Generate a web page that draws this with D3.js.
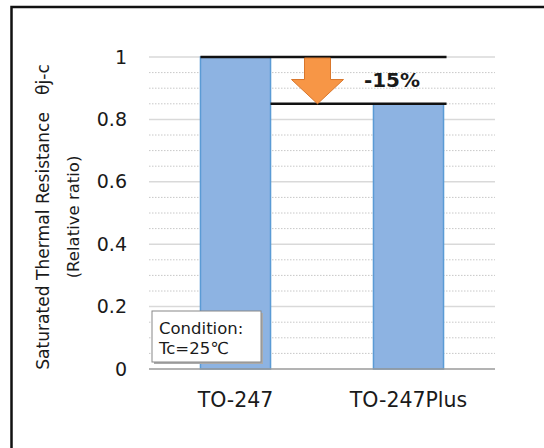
<!DOCTYPE html>
<html>
<head>
<meta charset="utf-8">
<script src="https://cdn.jsdelivr.net/npm/d3@7"></script>
<style>
  body { margin: 0; background: #fff; }
  text { font-family: "DejaVu Sans", Verdana, sans-serif; fill: #1a1a1a; }
</style>
</head>
<body>
<svg id="chart"></svg>
<script>
// chart data
const categories = ['TO-247', 'TO-247Plus'];
const values = [1, 0.85];
const majorTicks = [0, 0.2, 0.4, 0.6, 0.8, 1];
const tickLabels = ['0', '0.2', '0.4', '0.6', '0.8', '1'];
const minorTicks = d3.range(0.05, 1, 0.05).filter(v => Math.round(v * 100) % 20 !== 0);
const yTitle = ['Saturated Thermal Resistance\u3000θj-c', '(Relative ratio)'];
const noteLines = ['Condition:', 'Tc=25℃'];
const diffLabel = '-15%';

const W = 544, H = 448;
const margin = { top: 57, right: 50, bottom: 79, left: 149 };
const width = 495 - margin.left;
const height = 369 - margin.top;

const svg = d3.select('#chart').attr('width', W).attr('height', H);

// outer frame
svg.append('rect')
  .attr('x', 11.5).attr('y', 7)
  .attr('width', W).attr('height', H)
  .attr('fill', 'none').attr('stroke', '#111').attr('stroke-width', 2.5);

const g = svg.append('g').attr('transform', `translate(${margin.left},${margin.top})`);

const x = d3.scaleBand().domain(categories).range([0, width])
  .paddingInner(0.595).paddingOuter(0.2975);
const y = d3.scaleLinear().domain([0, 1]).range([height, 0]);

// minor grid (dotted)
g.selectAll('.minor').data(minorTicks).join('line')
  .attr('x1', 0).attr('x2', width)
  .attr('y1', d => y(d)).attr('y2', d => y(d))
  .attr('stroke', '#c8c8c8').attr('stroke-dasharray', '1.5,1.5').attr('stroke-width', 1);

// major grid
g.selectAll('.major').data(majorTicks.slice(1)).join('line')
  .attr('x1', 0).attr('x2', width)
  .attr('y1', d => y(d)).attr('y2', d => y(d))
  .attr('stroke', '#d9d9d9').attr('stroke-width', 1.5);

// bars
g.selectAll('.bar').data(values).join('rect')
  .attr('x', (d, i) => x(categories[i]))
  .attr('y', d => y(d))
  .attr('width', x.bandwidth())
  .attr('height', d => y(0) - y(d))
  .attr('fill', '#8db3e2').attr('stroke', '#5b9bd5').attr('stroke-width', 1.5);

// baseline
g.append('line').attr('x1', 0).attr('x2', width)
  .attr('y1', y(0)).attr('y2', y(0))
  .attr('stroke', '#9a9a9a').attr('stroke-width', 1.5);

// y axis labels
const yAxis = d3.axisLeft(y).tickValues(majorTicks)
  .tickFormat((d, i) => tickLabels[i]).tickSize(0).tickPadding(22);
g.append('g').call(yAxis)
  .call(a => a.select('.domain').remove())
  .selectAll('text')
  .attr('font-size', 19).attr('fill', '#1a1a1a')
  .style('font-family', '"DejaVu Sans", Verdana, sans-serif');

// x axis labels
const xAxis = d3.axisBottom(x).tickSize(0).tickPadding(23);
g.append('g').attr('transform', `translate(0,${height})`).call(xAxis)
  .call(a => a.select('.domain').remove())
  .selectAll('text')
  .attr('font-size', 20.5).attr('fill', '#1a1a1a')
  .style('font-family', '"DejaVu Sans", Verdana, sans-serif');

// y title
const yt = svg.append('text')
  .attr('transform', 'translate(49,217) rotate(-90)')
  .attr('text-anchor', 'middle');
yt.selectAll('tspan').data(yTitle).join('tspan')
  .attr('x', 0).attr('dy', (d, i) => i === 0 ? 0 : 30)
  .attr('font-size', (d, i) => i === 0 ? 17.1 : 16.5)
  .text(d => d);

// difference markers
const xRight = x(categories[1]) + x.bandwidth() + 3;
g.append('line')
  .attr('x1', x(categories[0])).attr('x2', xRight)
  .attr('y1', y(values[0])).attr('y2', y(values[0]))
  .attr('stroke', '#111').attr('stroke-width', 2.5);
g.append('line')
  .attr('x1', x(categories[0]) + x.bandwidth()).attr('x2', xRight)
  .attr('y1', y(values[1])).attr('y2', y(values[1]))
  .attr('stroke', '#111').attr('stroke-width', 2.5);

// arrow
const ax = 317.5 - margin.left;
const yTop = y(values[0]) + 1;
const yTip = y(values[1]);
const yHead = yTop + (yTip - yTop) * 0.47;
const arrow = d3.path();
arrow.moveTo(ax - 13, yTop);
arrow.lineTo(ax + 13, yTop);
arrow.lineTo(ax + 13, yHead);
arrow.lineTo(ax + 26, yHead);
arrow.lineTo(ax, yTip);
arrow.lineTo(ax - 26, yHead);
arrow.lineTo(ax - 13, yHead);
arrow.closePath();
g.append('path').attr('d', arrow.toString())
  .attr('fill', '#f79646').attr('stroke', '#d9772c').attr('stroke-width', 1);

g.append('text')
  .attr('x', 392 - margin.left).attr('y', 87 - margin.top)
  .attr('text-anchor', 'middle').attr('font-size', 20).attr('font-weight', 'bold')
  .text(diffLabel);

// condition note
const note = svg.append('g');
note.append('rect').attr('x', 154).attr('y', 313).attr('width', 109).attr('height', 51)
  .attr('fill', '#aaa');
note.append('rect').attr('x', 152).attr('y', 311).attr('width', 109).attr('height', 51)
  .attr('fill', '#fff').attr('stroke', '#888').attr('stroke-width', 1);
note.selectAll('text').data(noteLines).join('text')
  .attr('x', 159).attr('y', (d, i) => 334 + i * 20)
  .attr('font-size', 16.5).text(d => d);
</script>
</body>
</html>
